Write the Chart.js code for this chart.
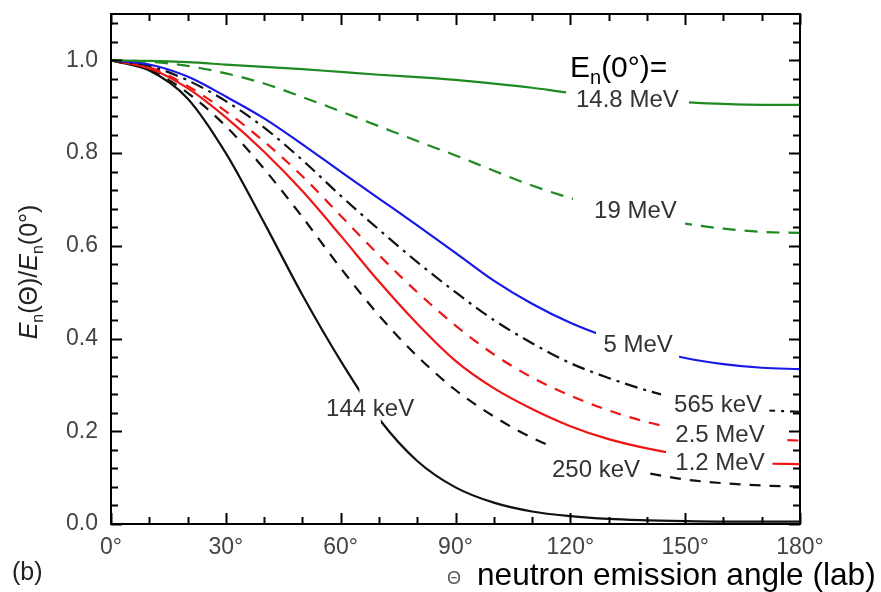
<!DOCTYPE html>
<html>
<head>
<meta charset="utf-8">
<title>Neutron energy ratio vs emission angle</title>
<script src="https://cdn.jsdelivr.net/npm/chart.js@4.4.1/dist/chart.umd.min.js"></script>
<style>
  html, body { margin: 0; padding: 0; background: #fff; }
  canvas { display: block; }
</style>
</head>
<body>
<canvas id="angleChart" width="881" height="592"></canvas>
<script>
// Emission angle (lab), degrees
const angles = [0, 10, 20, 30, 40, 50, 60, 70, 80, 90, 100, 110, 120, 130, 140, 150, 160, 170, 180];

// E_n(Θ)/E_n(0°) for each forward neutron energy
const ratio14_8MeV = [1.000, 0.999, 0.996, 0.991, 0.986, 0.981, 0.975, 0.969, 0.964, 0.958, 0.950, 0.941, 0.930, 0.922, 0.915, 0.910, 0.906, 0.904, 0.904];
const ratio19MeV   = [1.000, 0.997, 0.988, 0.972, 0.950, 0.921, 0.890, 0.858, 0.826, 0.795, 0.762, 0.730, 0.703, 0.680, 0.662, 0.648, 0.637, 0.630, 0.628];
const ratio5MeV    = [1.000, 0.991, 0.965, 0.922, 0.875, 0.819, 0.760, 0.702, 0.644, 0.585, 0.525, 0.475, 0.434, 0.402, 0.377, 0.358, 0.345, 0.337, 0.334];
const ratio565keV  = [1.000, 0.988, 0.957, 0.912, 0.855, 0.785, 0.708, 0.635, 0.565, 0.500, 0.440, 0.390, 0.347, 0.315, 0.288, 0.267, 0.254, 0.246, 0.242];
const ratio2_5MeV  = [1.000, 0.985, 0.945, 0.890, 0.825, 0.750, 0.665, 0.580, 0.500, 0.428, 0.366, 0.316, 0.277, 0.245, 0.220, 0.202, 0.190, 0.183, 0.180];
const ratio1_2MeV  = [1.000, 0.983, 0.940, 0.877, 0.803, 0.718, 0.622, 0.523, 0.432, 0.352, 0.293, 0.248, 0.211, 0.183, 0.163, 0.148, 0.138, 0.131, 0.129];
const ratio250keV  = [1.000, 0.980, 0.930, 0.858, 0.766, 0.662, 0.552, 0.450, 0.362, 0.289, 0.232, 0.186, 0.152, 0.127, 0.110, 0.096, 0.088, 0.083, 0.081];
const ratio144keV  = [1.000, 0.978, 0.918, 0.800, 0.650, 0.494, 0.352, 0.227, 0.136, 0.079, 0.046, 0.027, 0.017, 0.011, 0.008, 0.006, 0.005, 0.005, 0.005];

const xTicks = [0, 30, 60, 90, 120, 150, 180];
const yTicks = [0, 0.2, 0.4, 0.6, 0.8, 1.0];

const FONT = "'Liberation Sans', Arial, sans-serif";
const GREEN = "#1f8a22";
const BLUE = "#1818e8";
const RED = "#ee1515";
const BLACK = "#111111";

// curve name, where it sits (center x in deg, baseline in ratio) and the angle range left blank for it
const curveLabels = [
  { text: "14.8 MeV", x: 134.9, y: 0.900, gap: [118.9, 151.0] },
  { text: "19 MeV",   x: 137.0, y: 0.660, gap: [120.7, 150.0] },
  { text: "5 MeV",    x: 137.7, y: 0.371, gap: [126.7, 148.4] },
  { text: "565 keV",  x: 158.6, y: 0.242, gap: [143.7, 172.0] },
  { text: "2.5 MeV",  x: 159.1, y: 0.177, gap: [145.4, 175.8] },
  { text: "1.2 MeV",  x: 159.1, y: 0.117, gap: [145.0, 172.8] },
  { text: "250 keV",  x: 126.7, y: 0.101, gap: [115.7, 140.5] },
  { text: "144 keV",  x: 67.7,  y: 0.233, gap: [64.9, 70.5] }
];

function series(label, values, color, dash) {
  return {
    label: label,
    data: angles.map((a, i) => ({ x: a, y: values[i] })),
    borderColor: color,
    borderWidth: 2.2,
    borderDash: dash,
    pointRadius: 0,
    fill: false,
    cubicInterpolationMode: "monotone"
  };
}

// blank each curve where its own label sits
const labelGaps = {
  id: "labelGaps",
  beforeDatasetDraw(chart, args) {
    const lab = curveLabels[args.index];
    const { ctx, chartArea: a, scales } = chart;
    const x1 = scales.x.getPixelForValue(lab.gap[0]);
    const x2 = scales.x.getPixelForValue(lab.gap[1]);
    ctx.save();
    ctx.beginPath();
    ctx.rect(a.left - 5, a.top - 5, a.right - a.left + 10, a.bottom - a.top + 10);
    ctx.rect(x1, a.top - 5, x2 - x1, a.bottom - a.top + 10);
    ctx.clip("evenodd");
  },
  afterDatasetDraw(chart) {
    chart.ctx.restore();
  }
};

// frame with inward ticks on all four sides, plus the texts
const frameAndText = {
  id: "frameAndText",
  afterDraw(chart) {
    const { ctx, chartArea: a, scales } = chart;
    const xs = scales.x, ys = scales.y;
    ctx.save();
    ctx.strokeStyle = "#000";
    ctx.lineWidth = 2;
    ctx.strokeRect(a.left, a.top, a.right - a.left, a.bottom - a.top);

    ctx.beginPath();
    for (let d = 0; d <= 180; d += 10) {
      const px = Math.round(xs.getPixelForValue(d)) + 0.5;
      const len = d % 30 === 0 ? 11 : 7;
      ctx.moveTo(px, a.bottom); ctx.lineTo(px, a.bottom - len);
      ctx.moveTo(px, a.top); ctx.lineTo(px, a.top + len);
    }
    for (let i = 0; i <= 27; i++) {
      const py = Math.round(ys.getPixelForValue(i * 0.04)) + 0.5;
      const len = i % 5 === 0 ? 11 : 7;
      ctx.moveTo(a.left, py); ctx.lineTo(a.left + len, py);
      ctx.moveTo(a.right, py); ctx.lineTo(a.right - len, py);
    }
    ctx.stroke();

    // curve labels
    ctx.fillStyle = "#333";
    ctx.font = "24px " + FONT;
    ctx.textAlign = "center";
    ctx.textBaseline = "alphabetic";
    curveLabels.forEach(l => {
      ctx.fillText(l.text, xs.getPixelForValue(l.x), ys.getPixelForValue(l.y));
    });

    // header E_n(0°)=
    ctx.textAlign = "left";
    ctx.fillStyle = "#000";
    let x = 570;
    ctx.font = "30px " + FONT;
    ctx.fillText("E", x, 77);
    x += ctx.measureText("E").width;
    ctx.font = "20px " + FONT;
    ctx.fillText("n", x, 84);
    x += ctx.measureText("n").width;
    ctx.font = "30px " + FONT;
    ctx.fillText("(0°)=", x, 77);

    // x axis title
    ctx.fillStyle = "#555";
    ctx.font = "18px " + FONT;
    ctx.fillText("Θ", 447, 584);
    ctx.fillStyle = "#000";
    ctx.font = "31.6px " + FONT;
    ctx.fillText("neutron emission angle (lab)", 477, 585);

    // panel tag
    ctx.fillStyle = "#222";
    ctx.font = "25px " + FONT;
    ctx.fillText("(b)", 12, 580);

    // y axis title, rotated
    const parts = [
      { t: "E", f: "italic 25px " + FONT, dy: 0 },
      { t: "n", f: "16px " + FONT, dy: 6 },
      { t: "(Θ)/", f: "25px " + FONT, dy: 0 },
      { t: "E", f: "italic 25px " + FONT, dy: 0 },
      { t: "n", f: "16px " + FONT, dy: 6 },
      { t: "(0°)", f: "25px " + FONT, dy: 0 }
    ];
    let total = 0;
    parts.forEach(p => { ctx.font = p.f; p.w = ctx.measureText(p.t).width; total += p.w; });
    ctx.translate(37, 272);
    ctx.rotate(-Math.PI / 2);
    ctx.fillStyle = "#222";
    let tx = -total / 2;
    parts.forEach(p => {
      ctx.font = p.f;
      ctx.fillText(p.t, tx, p.dy);
      tx += p.w;
    });
    ctx.restore();
  }
};

const ctx = document.getElementById("angleChart").getContext("2d");
new Chart(ctx, {
  type: "line",
  data: {
    datasets: [
      series("14.8 MeV", ratio14_8MeV, GREEN, []),
      series("19 MeV", ratio19MeV, GREEN, [13, 9]),
      series("5 MeV", ratio5MeV, BLUE, []),
      series("565 keV", ratio565keV, BLACK, [13, 6, 3, 6]),
      series("2.5 MeV", ratio2_5MeV, RED, [11, 9]),
      series("1.2 MeV", ratio1_2MeV, RED, []),
      series("250 keV", ratio250keV, BLACK, [11, 9]),
      series("144 keV", ratio144keV, BLACK, [])
    ]
  },
  options: {
    responsive: false,
    animation: false,
    devicePixelRatio: 1,
    layout: { padding: { left: 0, top: 14, right: 81, bottom: 0 } },
    plugins: {
      legend: { display: false },
      tooltip: { enabled: false }
    },
    scales: {
      x: {
        type: "linear",
        min: 0,
        max: 180,
        afterFit: s => {
          s.height = 68;
          s.paddingLeft = 0;
          s.paddingRight = 0;
        },
        afterBuildTicks: s => { s.ticks = xTicks.map(v => ({ value: v })); },
        grid: { display: false, drawTicks: false },
        border: { display: false },
        ticks: {
          padding: 10,
          color: "#444",
          font: { family: FONT, size: 23 },
          maxRotation: 0,
          callback: v => v + "°"
        }
      },
      y: {
        min: 0,
        max: 1.1,
        afterFit: s => {
          s.width = 111;
          s.paddingTop = 0;
          s.paddingBottom = 0;
        },
        afterBuildTicks: s => { s.ticks = yTicks.map(v => ({ value: v })); },
        grid: { display: false, drawTicks: false },
        border: { display: false },
        ticks: {
          padding: 13,
          color: "#444",
          font: { family: FONT, size: 23 },
          callback: v => v.toFixed(1)
        }
      }
    }
  },
  plugins: [labelGaps, frameAndText]
});
</script>
</body>
</html>
